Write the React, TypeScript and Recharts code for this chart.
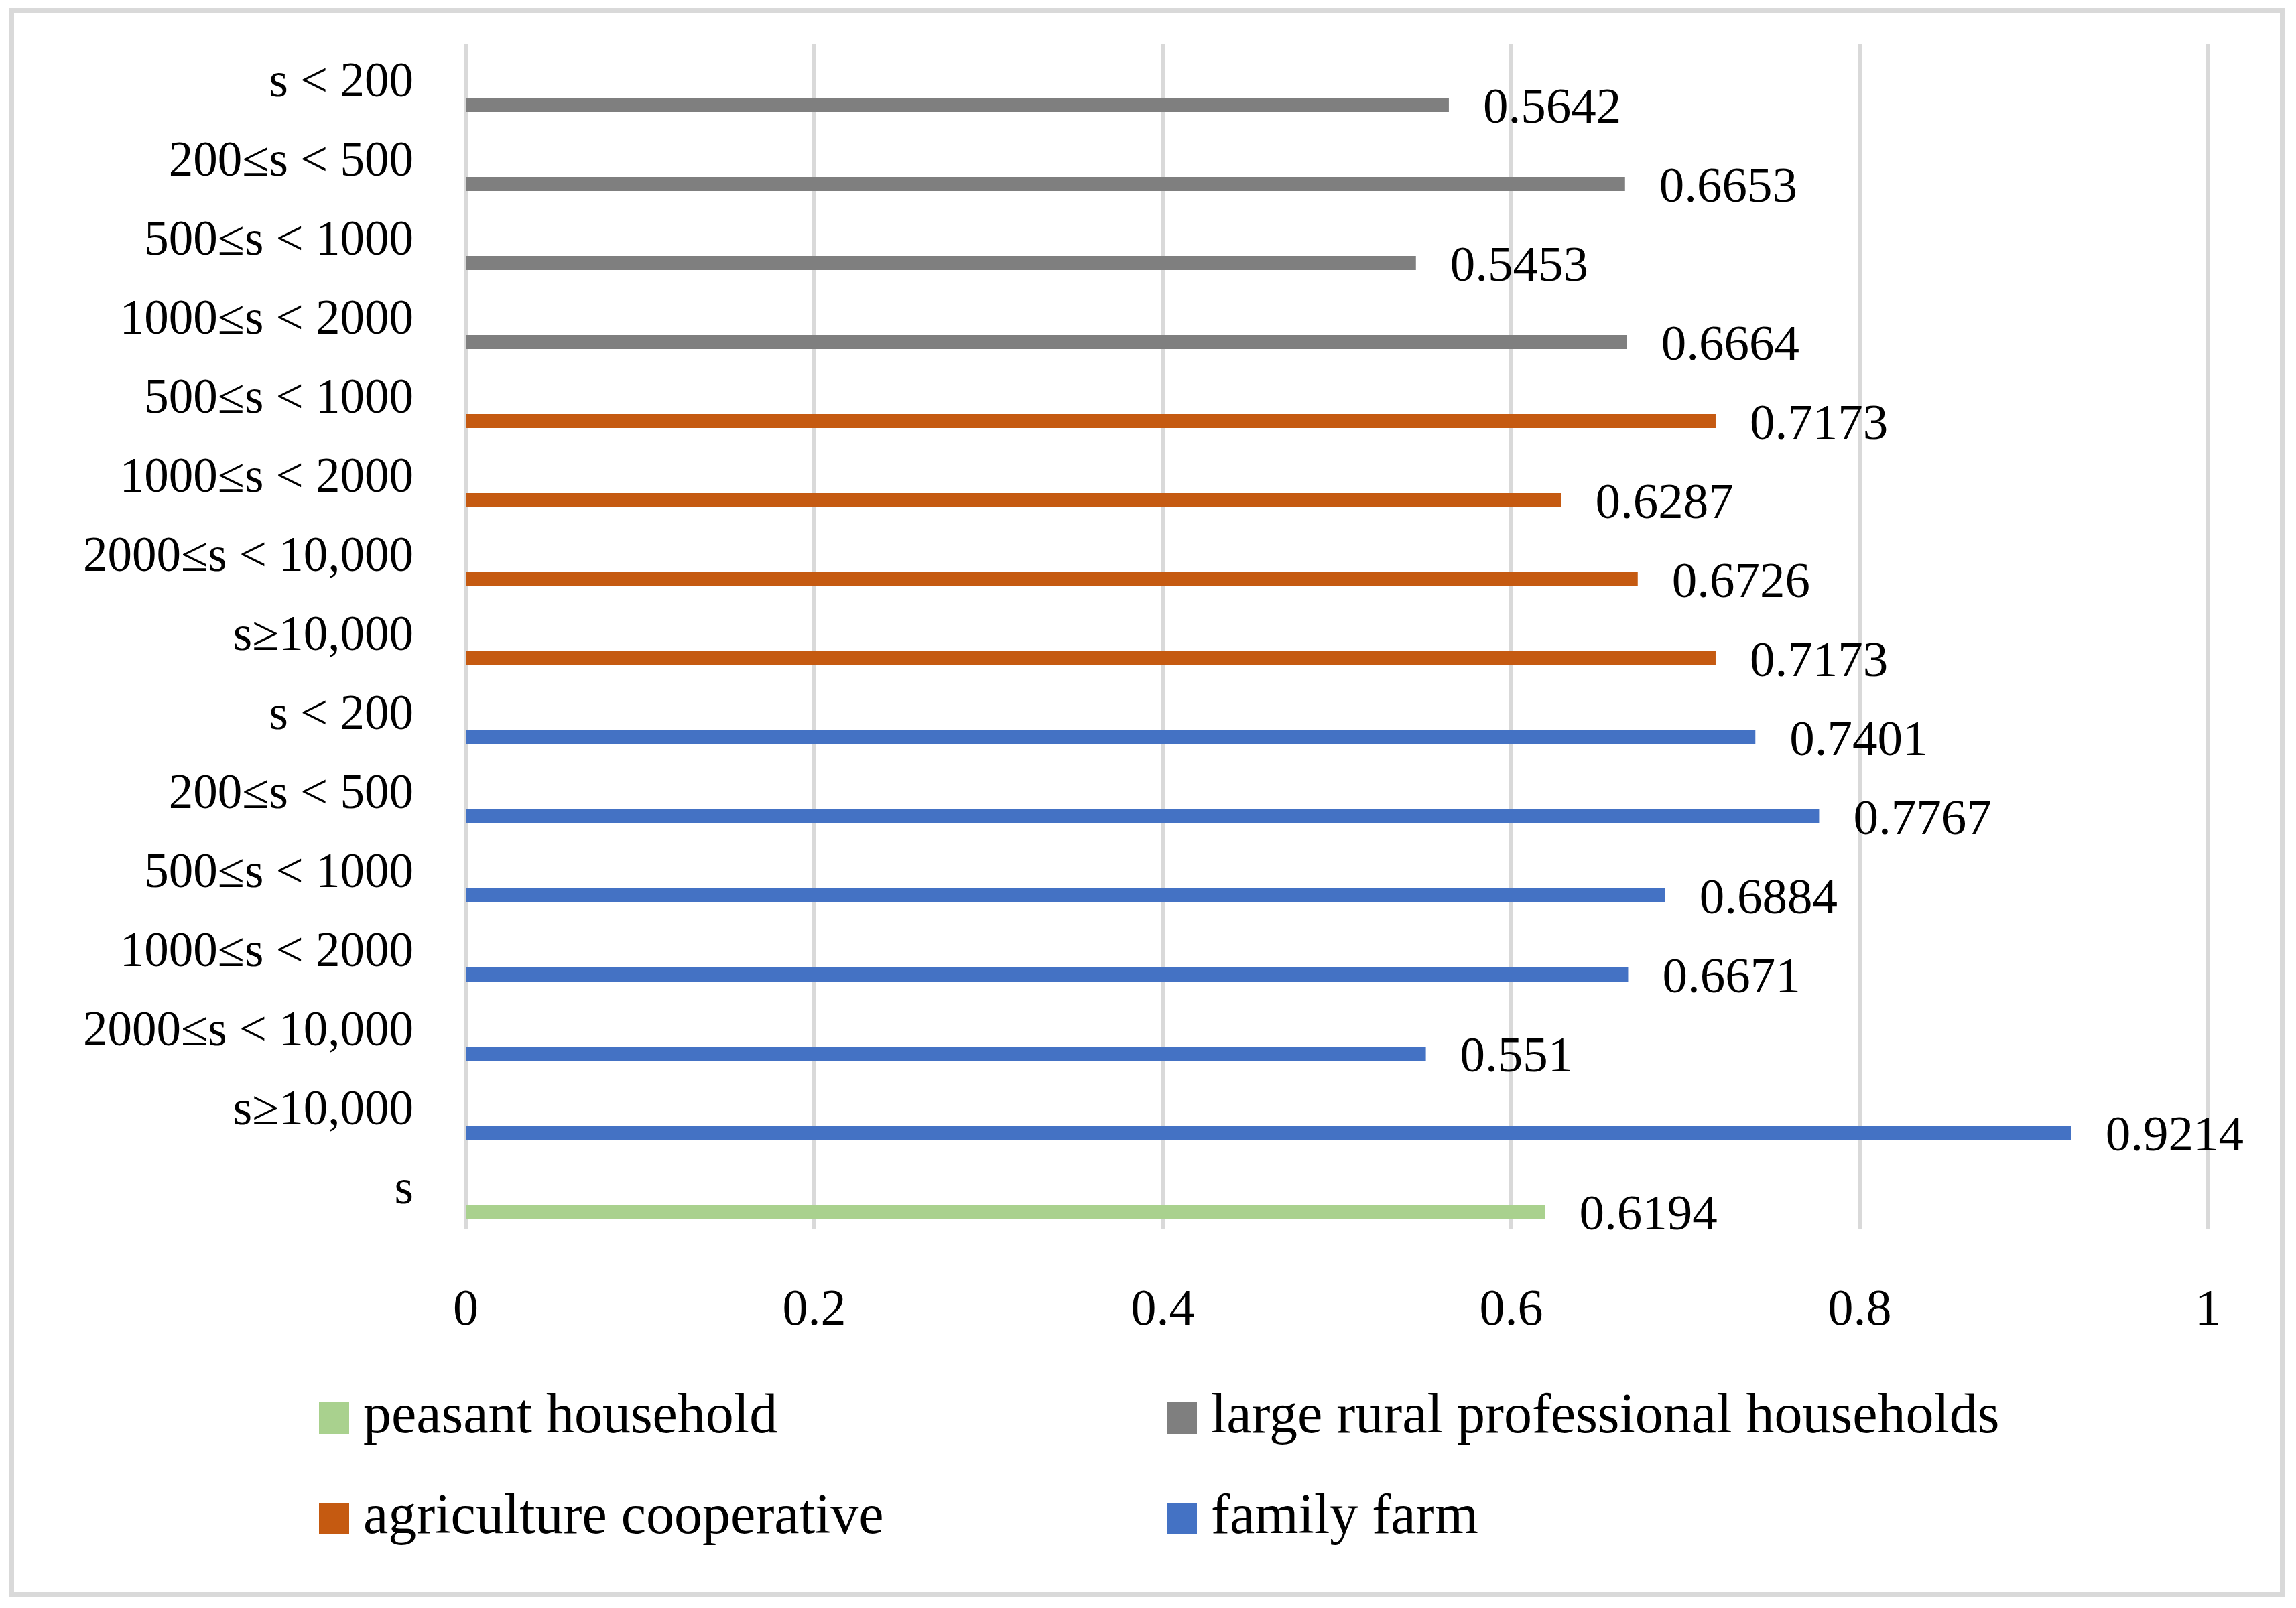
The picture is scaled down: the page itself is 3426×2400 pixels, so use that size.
import React from "react";
import { BarChart, Bar, XAxis, YAxis, CartesianGrid, Cell, LabelList } from "recharts";

const FONT = "'Liberation Serif', 'Times New Roman', serif";

// Data
const largeLabels = ["s < 200", "200≤s < 500", "500≤s < 1000", "1000≤s < 2000"];
const largeValues = [0.5642, 0.6653, 0.5453, 0.6664];
const coopLabels = ["500≤s < 1000", "1000≤s < 2000", "2000≤s < 10,000", "s≥10,000"];
const coopValues = [0.7173, 0.6287, 0.6726, 0.7173];
const familyLabels = ["s < 200", "200≤s < 500", "500≤s < 1000", "1000≤s < 2000", "2000≤s < 10,000", "s≥10,000"];
const familyValues = [0.7401, 0.7767, 0.6884, 0.6671, 0.551, 0.9214];
const peasantLabels = ["s"];
const peasantValues = [0.6194];
const xTicks = [0, 0.2, 0.4, 0.6, 0.8, 1];

const seriesNames: Record<string, string> = {
  peasant: "peasant household",
  large: "large rural professional households",
  coop: "agriculture cooperative",
  family: "family farm",
};

// Styles
const seriesColors: Record<string, string> = {
  peasant: "#a9d18e",
  large: "#7f7f7f",
  coop: "#c55a11",
  family: "#4472c4",
};

const groups = [
  { key: "large", labels: largeLabels, values: largeValues },
  { key: "coop", labels: coopLabels, values: coopValues },
  { key: "family", labels: familyLabels, values: familyValues },
  { key: "peasant", labels: peasantLabels, values: peasantValues },
];

const rows = groups.flatMap((g) =>
  g.labels.map((label, i) => ({ id: `${g.key}-${i}`, label, value: g.values[i], series: g.key }))
);
const labelById: Record<string, string> = {};
rows.forEach((r) => (labelById[r.id] = r.label));

const YTick = (props: any) => {
  const { x, y, payload } = props;
  return (
    <text x={x} y={y} dy={20} textAnchor="end" fontSize={73} fontFamily={FONT} fill="#000">
      {labelById[payload.value]}
    </text>
  );
};

const legendRows = [
  ["peasant", "large"],
  ["coop", "family"],
];

export default function App() {
  return (
    <div style={{ position: "absolute", left: 0, top: 0, width: 3426, height: 2400, background: "#fff" }}>
      <div
        style={{
          position: "absolute",
          left: 14,
          top: 12,
          width: 3395,
          height: 2371,
          border: "7px solid #d9d9d9",
          boxSizing: "border-box",
        }}
      />
      <div style={{ position: "absolute", left: 0, top: 0 }}>
        <BarChart
          width={3426}
          height={2400}
          data={rows}
          layout="vertical"
          margin={{ top: 65, right: 131, bottom: 415, left: 95 }}
          barGap={43}
        >
          <CartesianGrid horizontal={false} stroke="#d9d9d9" strokeWidth={6} />
          <XAxis
            type="number"
            domain={[0, 1]}
            ticks={xTicks}
            interval={0}
            axisLine={false}
            tickLine={false}
            tickSize={0}
            tickMargin={88}
            height={150}
            tick={{ fontSize: 76, fill: "#000", fontFamily: FONT }}
          />
          <YAxis
            type="category"
            dataKey="id"
            width={600}
            interval={0}
            axisLine={false}
            tickLine={false}
            tickSize={0}
            tickMargin={78}
            tick={<YTick />}
          />
          <Bar dataKey="spacer" barSize={21} isAnimationActive={false} />
          <Bar dataKey="value" barSize={21} isAnimationActive={false}>
            {rows.map((r) => (
              <Cell key={r.id} fill={seriesColors[r.series]} />
            ))}
            <LabelList
              dataKey="value"
              position="right"
              offset={51}
              fontSize={75}
              fontFamily={FONT}
              fill="#000"
            />
          </Bar>
        </BarChart>
      </div>
      <svg
        width={3426}
        height={2400}
        style={{ position: "absolute", left: 0, top: 0, pointerEvents: "none" }}
      >
        {legendRows.map((row, ri) =>
          row.map((key, ci) => {
            const mx = ci === 0 ? 476 : 1741;
            const my = 2093 + ri * 150;
            return (
              <g key={key}>
                <rect x={mx} y={my} width={45} height={47} fill={seriesColors[key]} />
                <text x={mx + 66} y={my + 45} fontSize={84} fontFamily={FONT} fill="#000">
                  {seriesNames[key]}
                </text>
              </g>
            );
          })
        )}
      </svg>
    </div>
  );
}
